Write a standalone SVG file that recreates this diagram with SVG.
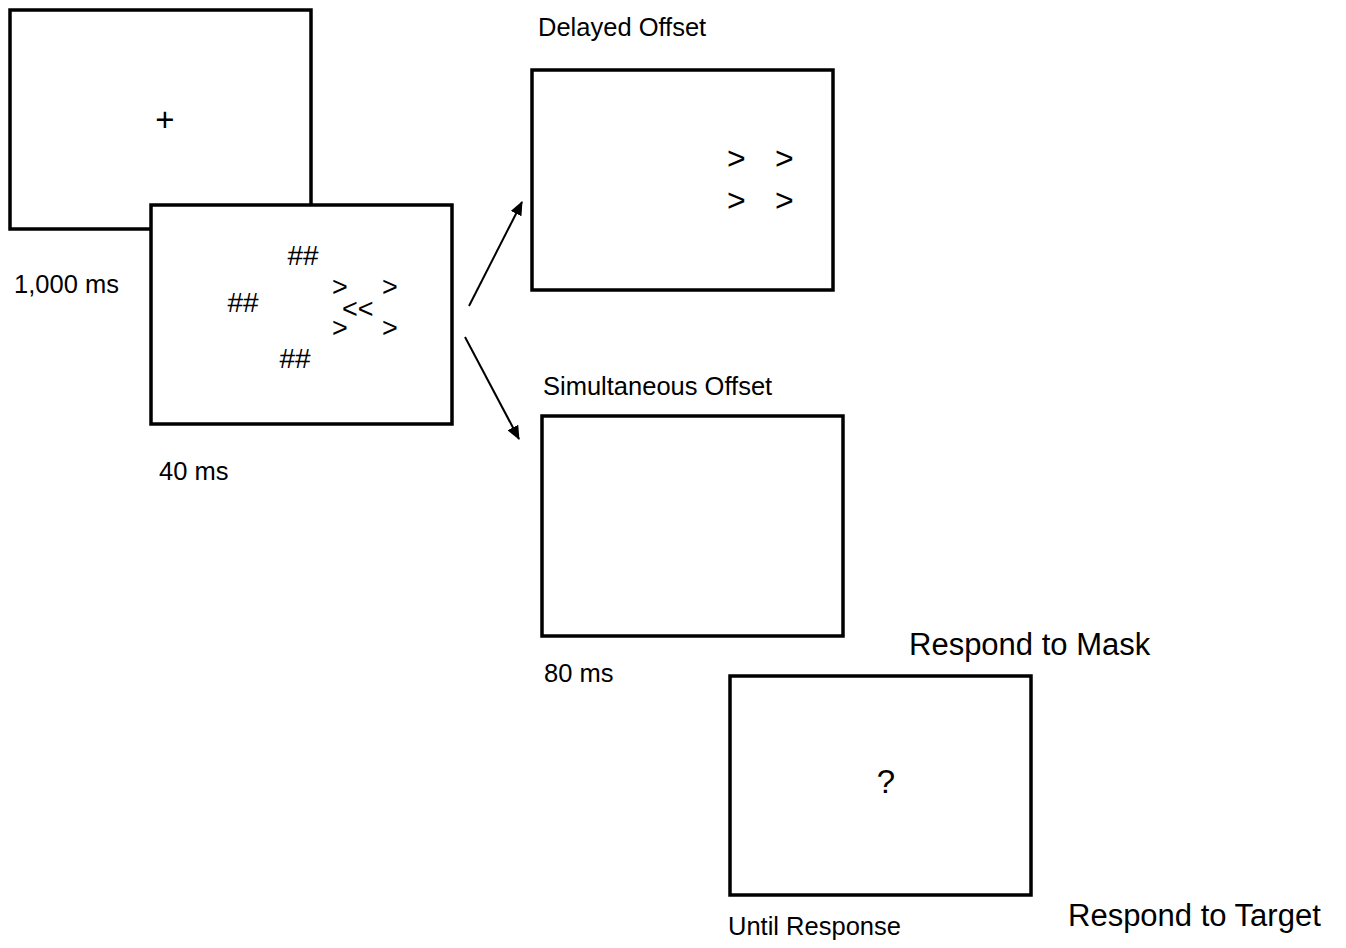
<svg xmlns="http://www.w3.org/2000/svg" width="1346" height="948" viewBox="0 0 1346 948">
<style>
.box{fill:#fff;stroke:#000;stroke-width:3.5}
text{font-family:"Liberation Sans",Arial,sans-serif;fill:#000}
.s{font-size:25.5px}
.m{font-size:27px}
.h{font-size:28px}
.g{font-size:32px}
.l{font-size:31px}
.c{stroke:#000;stroke-width:2;fill:none}
</style>
<defs>
<marker id="ah" markerWidth="14" markerHeight="12" refX="13" refY="6" orient="auto" markerUnits="userSpaceOnUse" viewBox="0 0 14 12"><path d="M0,0 L14,6 L0,12 z" fill="#000"/></marker>
</defs>
<g id="fixation">
<rect class="box" x="10" y="10" width="301" height="219"/>
<text x="165" y="131" text-anchor="middle" style="font-size:33px">+</text>
<text class="s" x="14" y="293">1,000 ms</text>
</g>
<g id="target">
<rect class="box" x="151" y="205" width="301" height="219"/>
<text class="h" x="303" y="265" text-anchor="middle">##</text>
<text class="h" x="243" y="312" text-anchor="middle">##</text>
<text class="h" x="295" y="368" text-anchor="middle">##</text>
<text class="m" x="332" y="296">&gt;</text>
<text class="m" x="382" y="296">&gt;</text>
<text class="m" x="342" y="318">&lt;&lt;</text>
<text class="m" x="332" y="337">&gt;</text>
<text class="m" x="382" y="337">&gt;</text>
<text class="s" x="159" y="480">40 ms</text>
</g>
<g id="delayed">
<text class="s" x="538" y="36">Delayed Offset</text>
<rect class="box" x="532" y="70" width="301" height="220"/>
<text class="g" x="727" y="169">&gt;</text>
<text class="g" x="775" y="169">&gt;</text>
<text class="g" x="727" y="211">&gt;</text>
<text class="g" x="775" y="211">&gt;</text>
</g>
<g id="simultaneous">
<text class="s" x="543" y="395">Simultaneous Offset</text>
<rect class="box" x="542" y="416" width="301" height="220"/>
<text class="s" x="544" y="682">80 ms</text>
</g>
<g id="response">
<text class="l" x="909" y="655">Respond to Mask</text>
<rect class="box" x="730" y="676" width="301" height="219"/>
<text x="886" y="793" text-anchor="middle" style="font-size:33px">?</text>
<text class="s" x="728" y="935">Until Response</text>
<text class="l" x="1068" y="926">Respond to Target</text>
</g>
<g id="connectors">
<line class="c" x1="469" y1="306" x2="522" y2="202" marker-end="url(#ah)"/>
<line class="c" x1="465" y1="337" x2="519" y2="439" marker-end="url(#ah)"/>
</g>
</svg>
